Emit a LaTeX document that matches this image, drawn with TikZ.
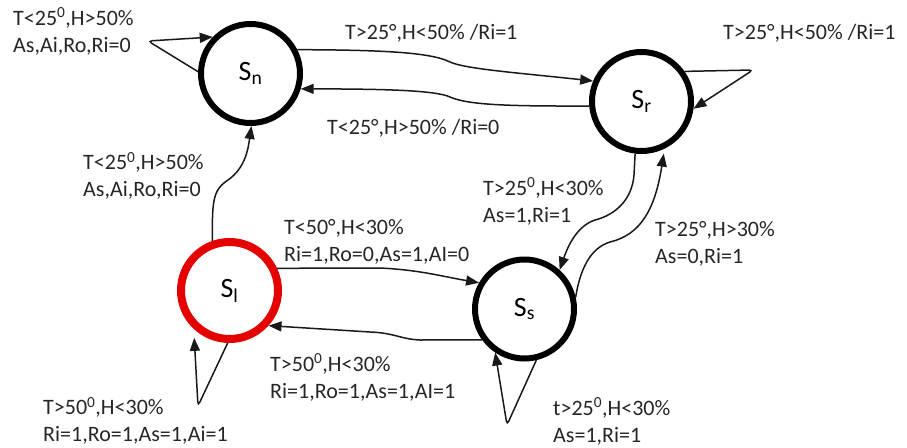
\documentclass[tikz,border=0pt]{standalone}
\usepackage{fontspec}
\setmainfont{Carlito}
\usetikzlibrary{arrows.meta}

\tikzset{
  state/.style={circle, draw=black, line width=6pt, minimum size=99pt, inner sep=0pt,
                font=\fontsize{28}{30}\selectfont},
  initstate/.style={state, draw=red!90!black, line width=8pt, minimum size=97pt},
  conn/.style={line width=1.5pt, draw=black!90, -{Triangle[length=13pt,width=10pt]}},
  loopconn/.style={conn, rounded corners=4pt},
  lbl/.style={anchor=west, inner sep=0pt, align=left, text=black!85,
              font=\fontsize{22}{27}\selectfont}
}
\newcommand{\dg}{\textsuperscript{0}}

\begin{document}
\begin{tikzpicture}[x=1pt, y=-1pt]
  \useasboundingbox (0,0) rectangle (907,447);

  % states
  \node[state]     (Sn) at (250.5,73.5) {S\textsubscript{n}};
  \node[state]     (Sr) at (641.5,101.5) {S\textsubscript{r}};
  \node[initstate] (Sl) at (229.5,290.5) {S\textsubscript{l}};
  \node[state]     (Ss) at (524.5,309) {S\textsubscript{s}};

  % self loops
  \draw[loopconn] (Sn.178) -- (148,41) -- (Sn.136);
  \draw[loopconn] (Sr.35) -- (753,70) -- (Sr.-8);
  \draw[loopconn, shorten >=9pt] (Sl.-92) -- (198,406) -- (Sl.-133);
  \draw[loopconn] (Ss.-77) -- (507,425) -- (Ss.-124);

  % transitions between states
  \draw[conn] (Sn.27) .. controls (380,50) and (430,52) .. (450,62)
              .. controls (465,69) and (520,73) .. (Sr.157);
  \draw[conn] (Sr.185) .. controls (520,106) and (470,106) .. (450,97)
              .. controls (435,90) and (380,89) .. (Sn.-17);
  \draw[conn] (Sl.109) .. controls (212,200) and (213,190) .. (228,180)
              .. controls (245,168) and (248,150) .. (Sn.-89);
  \draw[conn] (Sl.25) -- (380,268) .. controls (420,270) and (440,276) .. (Ss.150);
  \draw[conn] (Ss.-144) -- (420,340) .. controls (400,339) and (395,333) .. (370,332)
              -- (Sl.-42);
  \draw[conn] (Sr.-97) -- (634,175) .. controls (632,200) and (615,215) .. (595,220)
              .. controls (580,225) and (570,240) .. (Ss.48);
  \draw[conn, shorten >=5pt] (Ss.13) .. controls (580,270) and (590,248) .. (610,242)
              .. controls (640,235) and (655,210) .. (Sr.-64);

  % transition labels
  \node[lbl] (l1)  at (13,31.5)  {T<25\dg,H>50\%\\As,Ai,Ro,Ri=0};
  \node[lbl] (l2)  at (345,33)   {T>25°,H<50\% /Ri=1};
  \node[lbl] (l3)  at (327,128)  {T<25°,H>50\% /Ri=0};
  \node[lbl] (l4)  at (723,33)   {T>25°,H<50\% /Ri=1};
  \node[lbl] (l5)  at (83,176)   {T<25\dg,H>50\%\\As,Ai,Ro,Ri=0};
  \node[lbl] (l6)  at (284,241.5) {T<50°,H<30\%\\Ri=1,Ro=0,As=1,AI=0};
  \node[lbl] (l7)  at (483,201.5) {T>25\dg,H<30\%\\As=1,Ri=1};
  \node[lbl] (l8)  at (655,243.5) {T>25°,H>30\%\\As=0,Ri=1};
  \node[lbl] (l9)  at (270,377.5) {T>50\dg,H<30\%\\Ri=1,Ro=1,As=1,AI=1};
  \node[lbl] (l10) at (43,421)   {T>50\dg,H<30\%\\Ri=1,Ro=1,As=1,Ai=1};
  \node[lbl] (l11) at (553,421.5) {t>25\dg,H<30\%\\As=1,Ri=1};
\end{tikzpicture}
\end{document}
